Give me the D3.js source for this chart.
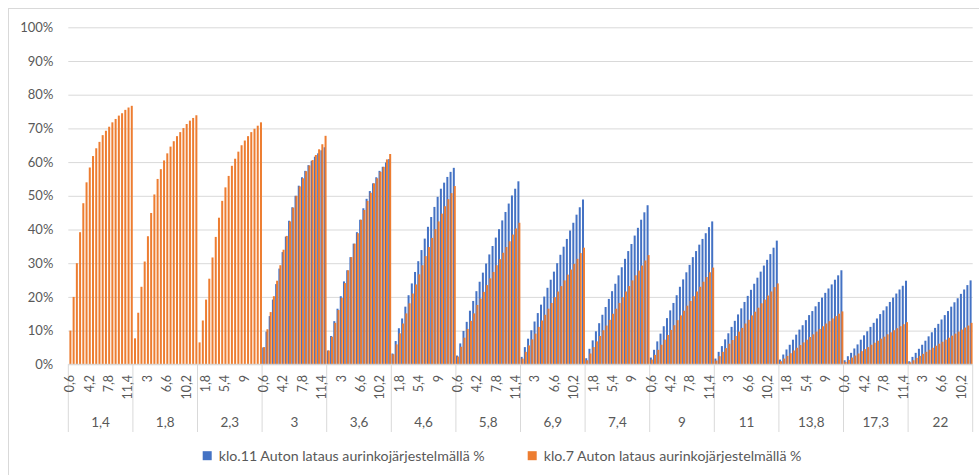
<!DOCTYPE html>
<html>
<head>
<meta charset="utf-8">
<script src="https://cdn.jsdelivr.net/npm/d3@7"></script>
<style>
  html, body { margin: 0; padding: 0; background: #fff; }
  svg { display: block; font-family: Lato, "Open Sans", "Liberation Sans", sans-serif; }
</style>
</head>
<body>
<svg id="chart" width="979" height="475"></svg>
<script>
// Outer category: vehicle consumption groups
const groupLabels = ["1,4", "1,8", "2,3", "3", "3,6", "4,6", "5,8", "6,9", "7,4", "9", "11", "13,8", "17,3", "22"];

// Inner category: step within each group
const stepLabels = ["0,6", "1,2", "1,8", "2,4", "3", "3,6", "4,2", "4,8", "5,4", "6",
                    "6,6", "7,2", "7,8", "8,4", "9", "9,6", "10,2", "10,8", "11,4", "12"];

// y-axis tick values (%)
const yTicks = [0, 10, 20, 30, 40, 50, 60, 70, 80, 90, 100];

// Series names
const seriesNames = ["klo.11 Auton lataus aurinkojärjestelmällä %", "klo.7 Auton lataus aurinkojärjestelmällä %"];

// klo.11 series, one row per group (no values for the first three groups)
const klo11 = [
  null, null, null, null, null, null, null, null, null, null, null, null, null, null, null, null, null, null, null, null,
  null, null, null, null, null, null, null, null, null, null, null, null, null, null, null, null, null, null, null, null,
  null, null, null, null, null, null, null, null, null, null, null, null, null, null, null, null, null, null, null, null,
  5.0, 9.7, 14.3, 19.2, 23.8, 28.4, 33.3, 37.9, 42.6, 46.6, 50.0, 53.0, 55.5, 57.4, 59.1, 60.4, 61.6, 62.6, 63.5, 64.4,
  4.1, 8.4, 12.8, 16.5, 20.2, 24.6, 27.9, 31.8, 35.8, 39.2, 42.9, 46.3, 49.1, 51.4, 53.7, 55.5, 57.4, 58.6, 59.9, 60.9,
  3.2, 6.9, 10.7, 13.6, 17.1, 20.5, 24.0, 27.4, 30.6, 33.9, 37.3, 40.8, 43.7, 46.7, 49.7, 52.1, 53.9, 55.6, 57.1, 58.3,
  2.6, 6.2, 9.9, 12.6, 15.9, 18.8, 21.7, 24.5, 27.2, 29.9, 32.6, 35.1, 37.6, 40.1, 42.7, 45.2, 47.7, 50.1, 52.1, 54.3,
  2.2, 5.1, 7.6, 10.1, 12.7, 15.2, 17.7, 20.1, 22.7, 25.1, 27.5, 30.0, 32.5, 34.9, 37.2, 39.7, 42.0, 44.4, 46.6, 48.9,
  1.8, 4.6, 7.1, 9.8, 12.2, 14.7, 17.0, 19.4, 21.7, 23.9, 26.4, 28.8, 31.3, 33.6, 35.7, 38.2, 40.5, 42.9, 45.1, 47.2,
  2.0, 4.3, 6.8, 9.1, 11.3, 13.7, 16.0, 18.2, 20.5, 23.0, 25.2, 27.3, 29.5, 31.8, 33.6, 35.5, 37.2, 38.9, 40.7, 42.4,
  1.7, 3.7, 5.4, 7.4, 9.2, 11.1, 12.9, 14.8, 16.6, 18.5, 20.3, 22.1, 23.9, 25.7, 27.5, 29.3, 31.0, 32.7, 34.6, 36.7,
  1.4, 2.9, 4.4, 5.8, 7.3, 8.8, 10.3, 11.6, 13.1, 14.6, 15.8, 17.2, 18.5, 19.8, 21.2, 22.5, 23.7, 25.1, 26.4, 27.9,
  1.2, 2.4, 3.4, 4.7, 5.9, 7.3, 8.6, 9.8, 11.1, 12.3, 13.6, 14.9, 16.0, 17.2, 18.5, 19.8, 21.0, 22.2, 23.3, 24.8,
  0.9, 2.2, 3.4, 4.6, 5.8, 7.0, 8.3, 9.5, 10.8, 12.0, 13.3, 14.6, 15.8, 17.1, 18.4, 19.6, 20.9, 22.2, 23.5, 24.9
];

// klo.7 series, one row per group
const klo7 = [
  10.0, 20.0, 30.0, 39.2, 47.8, 54.0, 58.4, 61.8, 64.1, 66.0, 68.0, 69.3, 70.5, 71.8, 72.8, 73.8, 74.5, 75.5, 76.2, 76.7,
  7.7, 15.3, 23.0, 30.5, 38.0, 44.9, 50.4, 55.0, 57.9, 60.5, 62.6, 64.6, 66.2, 67.7, 68.9, 70.1, 71.3, 72.3, 73.1, 73.9,
  6.5, 13.0, 19.2, 25.4, 31.7, 37.8, 43.5, 48.5, 52.5, 55.9, 58.9, 61.0, 63.1, 65.0, 66.4, 67.7, 68.9, 69.9, 70.8, 71.8,
  5.1, 10.4, 15.5, 20.2, 24.8, 29.4, 34.0, 38.1, 42.4, 46.5, 50.0, 52.8, 55.2, 57.3, 59.0, 60.6, 62.1, 63.8, 65.3, 67.8,
  4.1, 8.2, 12.3, 16.1, 19.7, 24.1, 27.9, 31.8, 35.8, 38.9, 42.9, 45.8, 48.5, 50.9, 53.7, 55.2, 57.1, 58.6, 60.8, 62.4,
  3.0, 5.9, 9.2, 12.1, 15.1, 18.1, 21.0, 23.7, 26.7, 29.4, 32.1, 34.8, 37.5, 40.1, 42.4, 44.7, 46.9, 49.0, 50.8, 52.9,
  2.3, 5.2, 7.9, 10.5, 12.9, 15.1, 17.6, 19.5, 21.5, 23.5, 25.5, 27.4, 29.4, 31.2, 33.1, 34.8, 36.5, 38.5, 40.3, 42.0,
  1.7, 3.7, 5.6, 7.4, 9.1, 11.1, 13.0, 14.7, 16.5, 18.2, 19.9, 21.6, 23.2, 24.9, 26.6, 28.1, 29.8, 31.3, 33.0, 34.6,
  1.2, 3.2, 5.1, 6.8, 8.4, 10.1, 11.5, 13.2, 15.0, 16.5, 18.2, 19.9, 21.6, 23.2, 24.9, 26.4, 27.8, 29.3, 30.8, 32.4,
  1.4, 2.8, 4.3, 5.8, 7.3, 8.7, 10.2, 11.6, 13.1, 14.5, 15.9, 17.4, 18.8, 20.2, 21.6, 23.0, 24.5, 25.9, 27.3, 28.7,
  1.1, 2.4, 3.7, 4.8, 6.1, 7.2, 8.4, 9.7, 10.8, 12.1, 13.2, 14.5, 15.6, 16.8, 18.1, 19.2, 20.4, 21.6, 22.9, 24.0,
  0.9, 1.7, 2.5, 3.3, 4.1, 4.9, 5.7, 6.5, 7.3, 8.1, 8.9, 9.7, 10.5, 11.3, 12.1, 12.8, 13.6, 14.3, 15.0, 15.7,
  0.7, 1.3, 2.0, 2.6, 3.2, 3.9, 4.5, 5.1, 5.8, 6.4, 7.0, 7.6, 8.2, 8.9, 9.5, 10.1, 10.7, 11.3, 11.9, 12.5,
  0.6, 1.2, 1.9, 2.5, 3.1, 3.7, 4.3, 4.9, 5.5, 6.1, 6.7, 7.3, 7.9, 8.5, 9.1, 9.7, 10.3, 10.9, 11.5, 12.3
];

const colors = ["#4472C4", "#ED7D31"];
const textColor = "#595959";
const gridColor = "#d9d9d9";

const svg = d3.select("#chart");

const plot = { left: 68.3, right: 972.7, top: 27.3, bottom: 364.3 };

// Chart frame
svg.append("rect")
  .attr("x", 8.5).attr("y", 8.5)
  .attr("width", 990).attr("height", 490)
  .attr("fill", "#fff")
  .attr("stroke", gridColor).attr("stroke-width", 1);

const x0 = d3.scaleBand().domain(groupLabels).range([plot.left, plot.right]).padding(0);
const x1 = d3.scaleBand().domain(stepLabels).range([0, x0.bandwidth()]).padding(0);
const y = d3.scaleLinear().domain([0, 100]).range([plot.bottom, plot.top]);

// Rows: one per (group, step)
const rows = [];
groupLabels.forEach((g, gi) => {
  stepLabels.forEach((s, si) => {
    const idx = gi * stepLabels.length + si;
    rows.push({ g, s, idx, v: [klo11[idx], klo7[idx]] });
  });
});

// Y axis with gridlines
const yAxis = svg.append("g")
  .attr("transform", `translate(${plot.left},0)`)
  .call(d3.axisLeft(y)
    .tickValues(yTicks)
    .tickFormat(d => d + "%")
    .tickSize(-(plot.right - plot.left))
    .tickPadding(15));
yAxis.select(".domain").remove();
yAxis.selectAll(".tick line").attr("stroke", gridColor).attr("stroke-width", 1);
yAxis.selectAll(".tick text")
  .attr("fill", textColor)
  .style("font-size", "13px")
  .style("font-family", "Lato, 'Open Sans', sans-serif");

// Bars: klo.11 first, klo.7 overlapping in front
const bw = x1.bandwidth();
const barW = bw * 0.62;
const offsets = [bw * 0.04, bw * 0.34];

[0, 1].forEach(k => {
  svg.append("g")
    .selectAll("rect")
    .data(rows.filter(r => r.v[k] != null))
    .join("rect")
    .attr("x", r => x0(r.g) + x1(r.s) + offsets[k])
    .attr("width", barW)
    .attr("y", r => y(r.v[k]))
    .attr("height", r => y(0) - y(r.v[k]))
    .attr("fill", colors[k]);
});

// Category axis line
svg.append("line")
  .attr("x1", plot.left).attr("x2", plot.right)
  .attr("y1", plot.bottom).attr("y2", plot.bottom)
  .attr("stroke", gridColor);

// Group separators
const bounds = groupLabels.map(g => x0(g)).concat([x0(groupLabels[groupLabels.length - 1]) + x0.bandwidth()]);
svg.append("g")
  .selectAll("line")
  .data(bounds)
  .join("line")
  .attr("x1", d => d).attr("x2", d => d)
  .attr("y1", plot.bottom).attr("y2", 432)
  .attr("stroke", gridColor);

// Inner step labels, every sixth category, rotated
svg.append("g")
  .selectAll("text")
  .data(rows.filter(r => r.idx % 6 === 0))
  .join("text")
  .attr("transform", r => `translate(${x0(r.g) + x1(r.s) + bw / 2},375) rotate(-90)`)
  .attr("text-anchor", "end")
  .attr("dy", "0.35em")
  .attr("fill", textColor)
  .style("font-size", "12.5px")
  .text(r => r.s);

// Group labels
svg.append("g")
  .selectAll("text")
  .data(groupLabels)
  .join("text")
  .attr("x", g => x0(g) + x0.bandwidth() / 2)
  .attr("y", 422)
  .attr("dy", "0.35em")
  .attr("text-anchor", "middle")
  .attr("fill", textColor)
  .style("font-size", "13.5px")
  .text(g => g);

// Legend
const legendX = [202.7, 527.7];
const legend = svg.append("g")
  .selectAll("g")
  .data(seriesNames)
  .join("g")
  .attr("transform", (d, i) => `translate(${legendX[i]},455.7)`);
legend.append("rect")
  .attr("x", 0).attr("y", -4.5)
  .attr("width", 9).attr("height", 9)
  .attr("fill", (d, i) => colors[i]);
legend.append("text")
  .attr("x", 16).attr("y", 0)
  .attr("dy", "0.35em")
  .attr("fill", textColor)
  .style("font-size", "14.2px")
  .text(d => d);
</script>
</body>
</html>
